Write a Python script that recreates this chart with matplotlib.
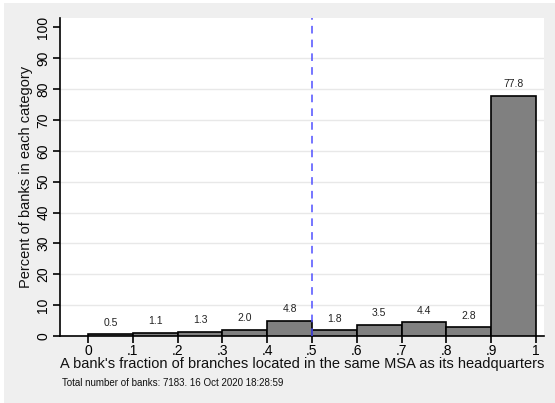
import matplotlib.pyplot as plt
import numpy as np
from matplotlib.patches import Rectangle

plt.rcParams['font.family'] = ['Liberation Sans', 'DejaVu Sans']

# Datos del histograma (porcentaje de bancos por intervalo)
bin_left = [0.0, 0.1, 0.2, 0.3, 0.4, 0.5, 0.6, 0.7, 0.8, 0.9]
percent = [0.5, 1.1, 1.3, 2.0, 4.8, 1.8, 3.5, 4.4, 2.8, 77.8]
xticks = [0, 0.1, 0.2, 0.3, 0.4, 0.5, 0.6, 0.7, 0.8, 0.9, 1.0]
xtick_labels = ['0', '.1', '.2', '.3', '.4', '.5', '.6', '.7', '.8', '.9', '1']
yticks = [0, 10, 20, 30, 40, 50, 60, 70, 80, 90, 100]

fig = plt.figure(figsize=(5.55, 4.03), dpi=100)
fig.patch.set_facecolor('white')
# panel gris de fondo
fig.patches.append(Rectangle((4 / 555, 0), 1, 400 / 403, transform=fig.transFigure,
                             facecolor='#efefef', edgecolor='none', zorder=-1))

ax = fig.add_axes([60 / 555, 1 - 336 / 403, 484 / 555, 318 / 403])
ax.set_facecolor('white')

# Barras
ax.bar(bin_left, percent, width=0.1, align='edge', color='#808080',
       edgecolor='black', linewidth=1.2, zorder=3)
for x, v in zip(bin_left, percent):
    ax.text(x + 0.05, v + 2.2, '%.1f' % v, ha='center', va='bottom',
            fontsize=7.5, color='#222222', zorder=4)

# Linea vertical discontinua en 0.5
ax.axvline(0.5, color='#5050ff', linestyle=(0, (5, 4)), linewidth=1.1, zorder=4)

ax.set_xlim(-0.0625, 1.018)
ax.set_ylim(0, 103)
ax.set_xticks(xticks)
ax.set_xticklabels(xtick_labels, fontsize=10)
ax.set_yticks(yticks)
ax.set_yticklabels([str(t) for t in yticks], fontsize=10, rotation=90, va='center')
ax.tick_params(axis='x', length=5, width=1.2, pad=1, colors='black')
ax.tick_params(axis='y', length=5, width=1.2, pad=2, colors='black')

# Rejilla horizontal
for y in yticks[1:-1]:
    ax.axhline(y, color='#e8e8e8', linewidth=1.0, zorder=1)

for s in ['top', 'right']:
    ax.spines[s].set_visible(False)
ax.spines['left'].set_linewidth(1.2)
ax.spines['bottom'].set_linewidth(1.2)

ax.set_xlabel("A bank's fraction of branches located in the same MSA as its headquarters",
              fontsize=10.5, labelpad=-1, color='#111111')
ax.set_ylabel('Percent of banks in each category', fontsize=10.5, labelpad=2, color='#111111')

fig.text(62 / 555, 1 - 383 / 403, 'Total number of banks: 7183. 16 Oct 2020 18:28:59',
         fontsize=7, va='center', ha='left', color='#111111')

plt.savefig('out.png', dpi=100, facecolor=fig.get_facecolor())
